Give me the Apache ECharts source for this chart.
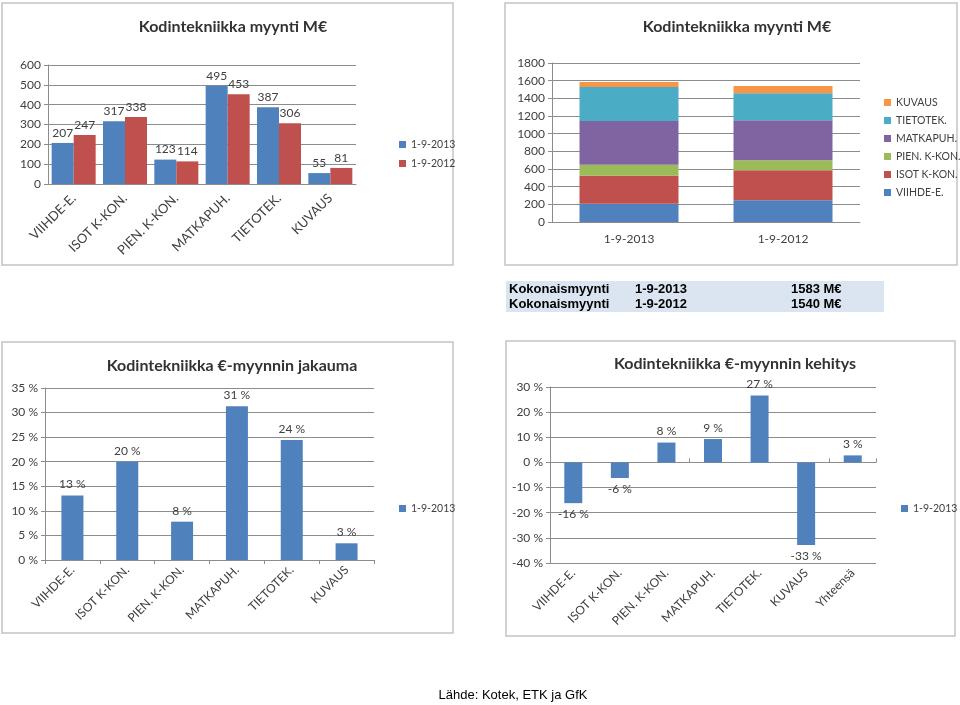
<!DOCTYPE html>
<html>
<head>
<meta charset="utf-8">
<script src="https://cdn.jsdelivr.net/npm/echarts@6/dist/echarts.min.js"></script>
<style>
html,body{margin:0;padding:0;background:#fff;}
#c{width:960px;height:705px;}
</style>
</head>
<body>
<div id="c"></div>
<script>
// ---- Data ----
const categories = ['VIIHDE-E.', 'ISOT K-KON.', 'PIEN. K-KON.', 'MATKAPUH.', 'TIETOTEK.', 'KUVAUS'];
const periods = ['1-9-2013', '1-9-2012'];
const sales2013 = [207, 317, 123, 495, 387, 55];
const sales2012 = [247, 338, 114, 453, 306, 81];
const totals = [1583, 1540];
const shareCategories = categories;
const share2013 = [13.1, 20.0, 7.8, 31.3, 24.4, 3.4];
const growthCategories = ['VIIHDE-E.', 'ISOT K-KON.', 'PIEN. K-KON.', 'MATKAPUH.', 'TIETOTEK.', 'KUVAUS', 'Yhteensä'];
const growth2013 = [-16.2, -6.2, 7.9, 9.3, 26.6, -32.8, 2.8];
const sourceText = 'Lähde: Kotek, ETK ja GfK';

// ---- Styles ----
const FONT = 'Lato';
const TXT = '#404040';
const GRID = '#8c8c8c';
const BLUE = '#4F81BD', RED = '#C0504D', GREEN = '#9BBB59', PURPLE = '#8064A2', TEAL = '#4BACC6', ORANGE = '#F79646';
const stackColors = [BLUE, RED, GREEN, PURPLE, TEAL, ORANGE];

const chart = echarts.init(document.getElementById('c'), null, {renderer: 'canvas'});

function valAxis(gi, min, max, interval, fmt) {
  return {
    type: 'value', gridIndex: gi, min: min, max: max, interval: interval,
    axisLine: {show: true, lineStyle: {color: GRID}},
    axisTick: {show: true, length: 4, lineStyle: {color: GRID}},
    splitLine: {show: true, lineStyle: {color: GRID, width: 1}},
    axisLabel: {color: TXT, fontFamily: FONT, fontSize: 12, margin: 7, formatter: fmt || (v => String(v))}
  };
}
function catAxis(gi, data, rotate, ticks, extra) {
  return Object.assign({
    type: 'category', gridIndex: gi, data: data,
    axisLine: {show: true, lineStyle: {color: GRID}},
    axisTick: {show: ticks, length: 4, lineStyle: {color: GRID}},
    axisLabel: {color: TXT, fontFamily: FONT, fontSize: 12, rotate: rotate, margin: 8, interval: 0}
  }, extra || {});
}
const pctFmt = p => Math.round(p.value) + ' %';

// stacked series
const stackSeries = categories.map((c, i) => ({
  name: c, type: 'bar', stack: 'tot', xAxisIndex: 1, yAxisIndex: 1,
  data: [sales2013[i], sales2012[i]], barWidth: 99,
  itemStyle: {color: stackColors[i]}
}));

const growthData = growth2013.map(v => ({
  value: v,
  label: {position: v < 0 ? 'bottom' : 'top'}
}));

const legendBase = {
  orient: 'vertical', itemWidth: 7, itemHeight: 7, itemGap: 8,
  textStyle: {color: TXT, fontFamily: FONT, fontSize: 10.5},
  icon: 'rect', selectedMode: false
};

function borderRect(x, y, w, h) {
  return {type: 'rect', shape: {x: x, y: y, width: w, height: h}, style: {fill: 'none', stroke: '#c3c3c3', lineWidth: 1.5}, silent: true, z: -1};
}
function tText(x, y, t, bold, align) {
  return {type: 'text', x: x, y: y, style: {text: t, fill: '#000', font: (bold ? 'bold ' : '') + '13px "Liberation Sans", Arial', textAlign: align || 'left', textVerticalAlign: 'middle'}, silent: true};
}

const option = {
  animation: false,
  backgroundColor: '#fff',
  title: [
    {text: 'Kodintekniikka myynti M€', left: 228, top: 14, textAlign: 'center', textStyle: {color: '#333', fontFamily: FONT, fontSize: 16, fontWeight: 'bold'}},
    {text: 'Kodintekniikka myynti M€', left: 732, top: 14, textAlign: 'center', textStyle: {color: '#333', fontFamily: FONT, fontSize: 16, fontWeight: 'bold'}},
    {text: 'Kodintekniikka €-myynnin jakauma', left: 227, top: 353, textAlign: 'center', textStyle: {color: '#333', fontFamily: FONT, fontSize: 16, fontWeight: 'bold'}},
    {text: 'Kodintekniikka €-myynnin kehitys', left: 730, top: 351, textAlign: 'center', textStyle: {color: '#333', fontFamily: FONT, fontSize: 16, fontWeight: 'bold'}}
  ],
  legend: [
    Object.assign({}, legendBase, {left: 394, top: 134, itemGap: 8, data: periods}),
    Object.assign({}, legendBase, {left: 879, top: 92, itemGap: 7, data: categories.slice().reverse()}),
    Object.assign({}, legendBase, {left: 394, top: 498, data: ['1-9-2013 ']}),
    Object.assign({}, legendBase, {left: 896, top: 498, data: ['1-9-2013  ']})
  ],
  grid: [
    {left: 48, top: 65, width: 308, height: 119},
    {left: 552, top: 63, width: 308, height: 159},
    {left: 45, top: 388, width: 329, height: 172},
    {left: 550, top: 387, width: 326, height: 176}
  ],
  xAxis: [
    catAxis(0, categories, 45, false, {axisLabel: {color: TXT, fontFamily: FONT, fontSize: 13, rotate: 45, margin: 12, interval: 0}}),
    catAxis(1, periods, 0, false, {axisLabel: {color: TXT, fontFamily: FONT, fontSize: 12, margin: 11}}),
    catAxis(2, shareCategories, 45, true),
    catAxis(3, growthCategories, 45, false, {axisLine: {show: false, onZero: false}}),
    catAxis(3, growthCategories, 0, true, {axisLabel: {show: false}, axisLine: {show: true, onZero: true, lineStyle: {color: GRID}}})
  ],
  yAxis: [
    valAxis(0, 0, 600, 100),
    valAxis(1, 0, 1800, 200),
    valAxis(2, 0, 35, 5, '{value} %'),
    valAxis(3, -40, 30, 10, '{value} %')
  ],
  series: [
    {name: periods[0], type: 'bar', xAxisIndex: 0, yAxisIndex: 0, data: sales2013, barWidth: 22, barGap: '0%',
     itemStyle: {color: BLUE}, label: {show: true, position: 'top', color: TXT, fontFamily: FONT, fontSize: 12, distance: 4}},
    {name: periods[1], type: 'bar', xAxisIndex: 0, yAxisIndex: 0, data: sales2012, barWidth: 22, barGap: '0%',
     itemStyle: {color: RED}, label: {show: true, position: 'top', color: TXT, fontFamily: FONT, fontSize: 12, distance: 4}},
    ...stackSeries,
    {name: '1-9-2013 ', type: 'bar', xAxisIndex: 2, yAxisIndex: 2, data: share2013, barWidth: 22,
     itemStyle: {color: BLUE}, label: {show: true, position: 'top', color: TXT, fontFamily: FONT, fontSize: 12, distance: 5, formatter: pctFmt}},
    {name: '1-9-2013  ', type: 'bar', xAxisIndex: 3, yAxisIndex: 3, data: growthData, barWidth: 18,
     itemStyle: {color: BLUE}, label: {show: true, color: TXT, fontFamily: FONT, fontSize: 12, distance: 5, formatter: pctFmt}}
  ],
  graphic: [
    borderRect(2, 3, 451, 262),
    borderRect(505, 3, 452, 262),
    borderRect(2, 342, 451, 291),
    borderRect(506, 341, 449, 295),
    {type: 'rect', shape: {x: 506, y: 281, width: 378, height: 31}, style: {fill: '#dbe5f1'}, silent: true, z: -2},
    tText(509, 289, 'Kokonaismyynti', true),
    tText(635, 289, periods[0], true),
    tText(791, 289, totals[0] + ' M€', true),
    tText(509, 304, 'Kokonaismyynti', true),
    tText(635, 304, periods[1], true),
    tText(791, 304, totals[1] + ' M€', true),
    tText(513, 695, sourceText, false, 'center')
  ]
};
chart.setOption(option);
</script>
</body>
</html>
